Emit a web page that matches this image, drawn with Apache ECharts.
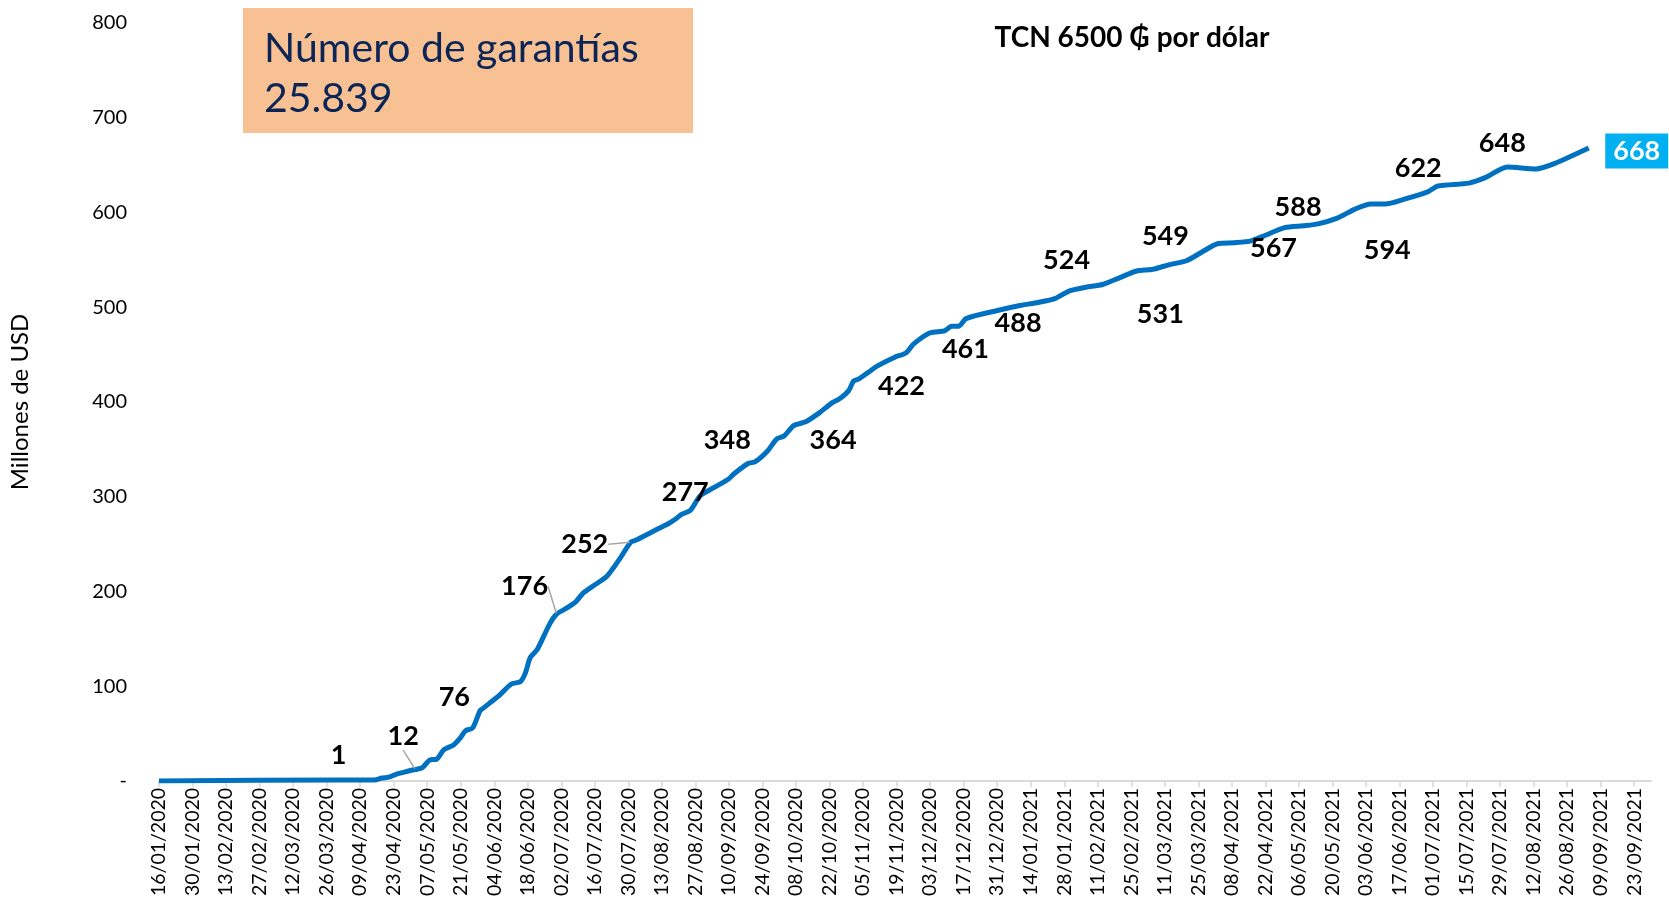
<!DOCTYPE html>
<html>
<head>
<meta charset="utf-8">
<script src="https://cdn.jsdelivr.net/npm/echarts@6/dist/echarts.min.js"></script>
<style>
  html, body { margin: 0; padding: 0; background: #ffffff; }
  #chart { width: 1669px; height: 899px; }
</style>
</head>
<body>
<div id="chart"></div>
<script>
// Cumulative guarantees, millions of USD
const startDate = '16/01/2020';
const axisEndDate = '30/09/2021';

const tickLabels = [
  '16/01/2020','30/01/2020','13/02/2020','27/02/2020','12/03/2020','26/03/2020','09/04/2020',
  '23/04/2020','07/05/2020','21/05/2020','04/06/2020','18/06/2020','02/07/2020','16/07/2020',
  '30/07/2020','13/08/2020','27/08/2020','10/09/2020','24/09/2020','08/10/2020','22/10/2020',
  '05/11/2020','19/11/2020','03/12/2020','17/12/2020','31/12/2020','14/01/2021','28/01/2021',
  '11/02/2021','25/02/2021','11/03/2021','25/03/2021','08/04/2021','22/04/2021','06/05/2021',
  '20/05/2021','03/06/2021','17/06/2021','01/07/2021','15/07/2021','29/07/2021','12/08/2021',
  '26/08/2021','09/09/2021','23/09/2021'
];

const dates = [
  '16/01/2020','31/03/2020','10/04/2020','15/04/2020','18/04/2020','21/04/2020','24/04/2020',
  '27/04/2020','30/04/2020','02/05/2020','05/05/2020','08/05/2020','11/05/2020','14/05/2020',
  '18/05/2020','21/05/2020','23/05/2020','26/05/2020','29/05/2020','30/05/2020','03/06/2020',
  '06/06/2020','11/06/2020','15/06/2020','17/06/2020','19/06/2020','22/06/2020','27/06/2020',
  '30/06/2020','04/07/2020','08/07/2020','11/07/2020','16/07/2020','21/07/2020','26/07/2020',
  '31/07/2020','02/08/2020','09/08/2020','16/08/2020','19/08/2020','21/08/2020','25/08/2020',
  '29/08/2020','04/09/2020','10/09/2020','12/09/2020','18/09/2020','21/09/2020','26/09/2020',
  '30/09/2020','03/10/2020','07/10/2020','12/10/2020','18/10/2020','23/10/2020','26/10/2020',
  '30/10/2020','01/11/2020','03/11/2020','07/11/2020','11/11/2020','18/11/2020','23/11/2020',
  '26/11/2020','03/12/2020','09/12/2020','12/12/2020','15/12/2020','18/12/2020','01/01/2021',
  '10/01/2021','17/01/2021','24/01/2021','30/01/2021','06/02/2021','13/02/2021','20/02/2021',
  '27/02/2021','06/03/2021','13/03/2021','20/03/2021','27/03/2021','02/04/2021','09/04/2021',
  '16/04/2021','22/04/2021','30/04/2021','08/05/2021','14/05/2021','22/05/2021','29/05/2021',
  '05/06/2021','11/06/2021','19/06/2021','29/06/2021','03/07/2021','16/07/2021','23/07/2021',
  '01/08/2021','13/08/2021','21/08/2021','04/09/2021'
];

const values = [
  0, 1, 1, 1, 3, 4, 7,
  9, 11, 12, 14, 22, 23, 33,
  38, 46, 53, 56, 74, 76, 84,
  90, 102, 105, 114, 130, 139, 165,
  176, 182, 189, 198, 207, 216, 233,
  252, 254, 263, 272, 277, 281, 286,
  301, 310, 319, 324, 335, 337, 348,
  361, 364, 375, 379, 389, 399, 403,
  412, 422, 424, 431, 438, 447, 452,
  461, 473, 475, 480, 480, 488, 497,
  502, 505, 509, 517, 521, 524, 531,
  538, 540, 545, 549, 559, 567, 568,
  570, 576, 584, 586, 588, 594, 603,
  609, 609, 614, 622, 628, 631, 637,
  648, 646, 652, 668
];

// Dates whose value is written next to the line
const labeledDates = [
  '31/03/2020','02/05/2020','30/05/2020','30/06/2020','31/07/2020','19/08/2020','26/09/2020',
  '03/10/2020','01/11/2020','26/11/2020','18/12/2020','13/02/2021','20/02/2021','20/03/2021',
  '02/04/2021','14/05/2021','22/05/2021','29/06/2021','01/08/2021','04/09/2021'
];

// Label placement relative to its point (px)
const labelShift = [
  [0, -25], [-12, -33], [-28, -12], [-32, -28], [-46, 2], [9, -26], [-40, -11],
  [49, 4], [48, 5], [52, 5], [52, 5], [-36, -24], [41, 36], [-21, -24],
  [56, 5], [-20, -17], [50, 32], [-10, -23], [-5, -24], [48, 3]
];
const leaderLabels = ['02/05/2020', '30/06/2020', '31/07/2020'];
const lastLabel = '04/09/2021';

function parseDay(s) {
  const p = s.split('/').map(Number);
  return Date.UTC(p[2], p[1] - 1, p[0]);
}
const t0 = parseDay(startDate);
function dayOffset(s) { return Math.round((parseDay(s) - t0) / 86400000); }

const tickDays = tickLabels.map(dayOffset);
const tickText = {};
tickLabels.forEach((l, i) => { tickText[tickDays[i]] = l; });

const lineData = dates.map((d, i) => [dayOffset(d), values[i]]);
const labelData = labeledDates.map(d => {
  const v = values[dates.indexOf(d)];
  const item = { value: [dayOffset(d), v] };
  if (leaderLabels.includes(d)) item.labelLine = { show: true };
  if (d === lastLabel) {
    item.label = {
      backgroundColor: '#00B0F0', color: '#ffffff', padding: [5, 8, 3, 8]
    };
  }
  return item;
});

const FONT = 'Lato, "Open Sans", sans-serif';
const chart = echarts.init(document.getElementById('chart'), null, { renderer: 'canvas' });

chart.setOption({
  animation: false,
  backgroundColor: '#ffffff',
  textStyle: { fontFamily: FONT },
  grid: { left: 156, right: 18, top: 23, bottom: 114, containLabel: false },
  xAxis: {
    type: 'value',
    min: 0,
    max: dayOffset(axisEndDate),
    splitLine: { show: false },
    axisLine: { show: true, lineStyle: { color: '#d9d9d9', width: 2 } },
    axisTick: {
      show: true, customValues: tickDays, length: 6,
      lineStyle: { color: '#d9d9d9', width: 1.5 }
    },
    axisLabel: {
      customValues: tickDays,
      rotate: 90,
      margin: 7,
      fontSize: 19.5,
      color: '#000000',
      fontFamily: FONT,
      formatter: v => tickText[v] || ''
    }
  },
  yAxis: {
    type: 'value',
    min: 0,
    max: 800,
    interval: 100,
    name: 'Millones de USD',
    nameLocation: 'middle',
    nameGap: 127,
    nameRotate: 90,
    nameTextStyle: { fontSize: 24, color: '#000000', fontFamily: FONT },
    splitLine: { show: false },
    axisLine: { show: false },
    axisTick: { show: false },
    axisLabel: {
      margin: 32,
      fontSize: 20,
      color: '#000000',
      fontFamily: FONT,
      formatter: v => (v === 0 ? '-' : String(v))
    }
  },
  series: [
    {
      type: 'line',
      data: lineData,
      showSymbol: false,
      smooth: 0.25,
      lineStyle: { color: '#0070C0', width: 5 },
      itemStyle: { color: '#0070C0' },
      z: 2
    },
    {
      type: 'scatter',
      data: labelData,
      symbolSize: 2,
      itemStyle: { color: 'rgba(0,0,0,0)', opacity: 1 },
      z: 3,
      label: {
        show: true,
        position: 'inside',
        formatter: p => String(p.value[1]),
        fontSize: 27,
        fontWeight: 'bold',
        color: '#000000',
        fontFamily: FONT
      },
      labelLine: {
        show: false,
        lineStyle: { color: '#a6a6a6', width: 1.5 }
      },
      labelLayout: p => ({ dx: labelShift[p.dataIndex][0], dy: labelShift[p.dataIndex][1] })
    }
  ],
  graphic: [
    {
      type: 'rect',
      left: 243, top: 8,
      shape: { width: 450, height: 125 },
      style: { fill: '#F8C193' },
      z: 10
    },
    {
      type: 'text',
      left: 264, top: 24,
      style: {
        text: 'Número de garantías\n25.839',
        fill: '#0c2557',
        font: '41px ' + FONT,
        lineHeight: 50
      },
      z: 11
    },
    {
      type: 'text',
      x: 1132, y: 38,
      style: {
        text: 'TCN 6500 ₲ por dólar',
        fill: '#000000',
        font: 'bold 28px ' + FONT,
        align: 'center',
        verticalAlign: 'middle'
      },
      z: 11
    }
  ]
});
</script>
</body>
</html>
